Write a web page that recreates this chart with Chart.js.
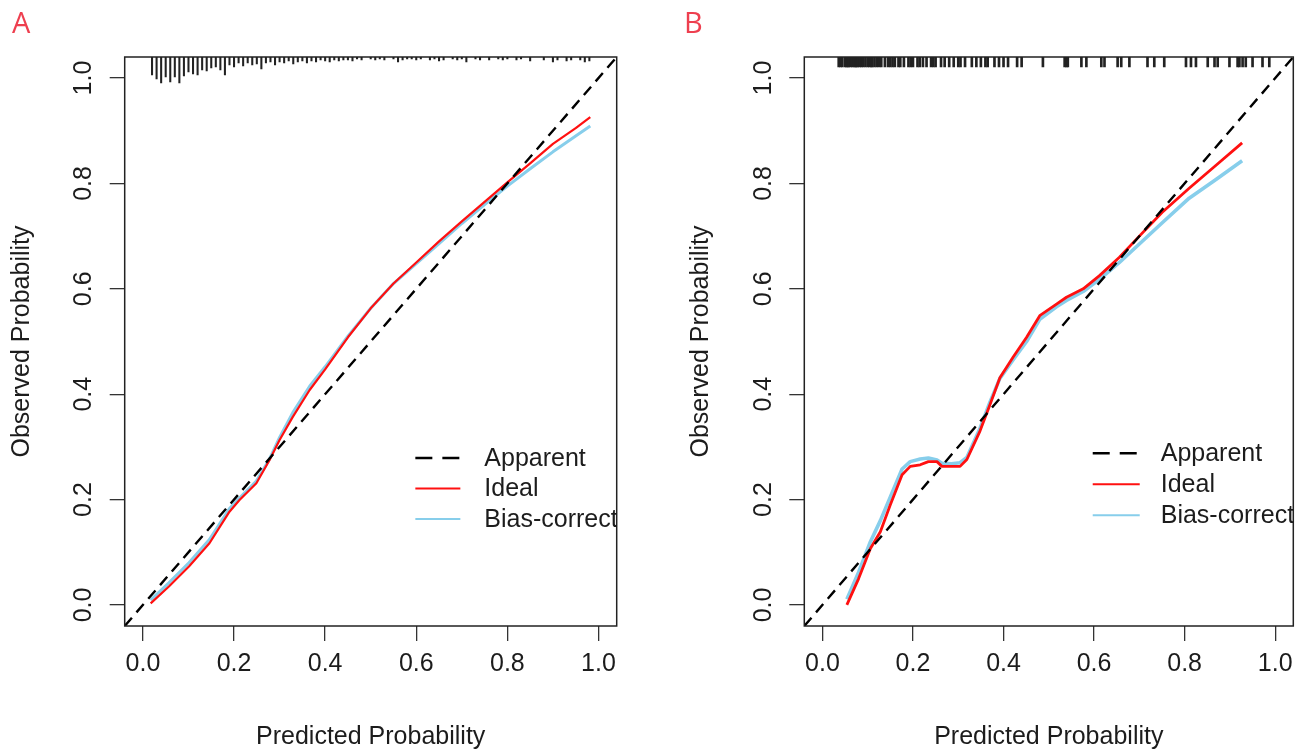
<!DOCTYPE html>
<html>
<head>
<meta charset="utf-8">
<script src="https://cdn.jsdelivr.net/npm/chart.js@4.4.1/dist/chart.umd.min.js"></script>
<style>
  html, body { margin: 0; padding: 0; background: #fff; }
  #wrap { position: relative; width: 1306px; height: 752px; overflow: hidden; }
  .panel { position: absolute; top: 0; width: 653px; height: 752px; }
  #panelA { left: 0; }
  #panelB { left: 653px; }
  .tag { position: absolute; top: 7px; font-family: "Open Sans", sans-serif; font-size: 29px; line-height: 29px; color: #ee3f4f; }
</style>
</head>
<body>
<div id="wrap">
  <div class="panel" id="panelA"><canvas id="chartA" width="653" height="752"></canvas></div>
  <div class="panel" id="panelB"><canvas id="chartB" width="653" height="752"></canvas></div>
  <div class="tag" style="left: 12px;">A</div>
  <div class="tag" style="left: 684px;">B</div>
</div>
<script>
// axis ticks + legend
const TICKS = [0, 0.2, 0.4, 0.6, 0.8, 1.0];
const DIAG = [-0.04, 1.04];
const LEGEND_LABELS = ["Apparent", "Ideal", "Bias-correct"];

// panel A curves
const A_X     = [0.017, 0.057, 0.101, 0.146, 0.19, 0.212, 0.249, 0.278, 0.3, 0.329, 0.366, 0.4, 0.45, 0.5, 0.55, 0.6, 0.65, 0.7, 0.75, 0.8, 0.85, 0.9, 0.95, 0.982];
const A_IDEAL = [0.003, 0.035, 0.073, 0.117, 0.177, 0.199, 0.231, 0.275, 0.313, 0.357, 0.408, 0.447, 0.508, 0.563, 0.61, 0.65, 0.69, 0.728, 0.765, 0.802, 0.838, 0.875, 0.905, 0.926];
const A_BIAS  = [0.009, 0.042, 0.08, 0.124, 0.183, 0.203, 0.235, 0.277, 0.318, 0.365, 0.415, 0.452, 0.51, 0.563, 0.61, 0.648, 0.686, 0.724, 0.76, 0.795, 0.828, 0.86, 0.89, 0.909];

// panel A spike histogram at top (counts)
const A_RUG_X = [0.02, 0.03, 0.04, 0.05, 0.06, 0.07, 0.08, 0.09, 0.10, 0.11, 0.12, 0.13, 0.14, 0.15, 0.16, 0.17, 0.18, 0.19, 0.20, 0.21,
                 0.22, 0.23, 0.24, 0.25, 0.26, 0.27, 0.28, 0.29, 0.30, 0.31, 0.32, 0.33, 0.34, 0.35, 0.36, 0.37, 0.38, 0.39, 0.40, 0.41,
                 0.42, 0.43, 0.44, 0.45, 0.46, 0.47, 0.48, 0.50, 0.51, 0.52, 0.53, 0.55, 0.56, 0.57, 0.58, 0.59, 0.60, 0.61, 0.63, 0.64,
                 0.65, 0.66, 0.68, 0.69, 0.70, 0.71, 0.73, 0.74, 0.76, 0.78, 0.79, 0.80, 0.82, 0.83, 0.85, 0.88, 0.90, 0.91, 0.93, 0.94,
                 0.96, 0.97, 0.98];
const A_RUG_N = [18, 22, 26, 20, 25, 20, 26, 19, 15, 17, 18, 13, 14, 11, 10, 13, 18, 8, 10, 6,
                 9, 6, 8, 7, 12, 6, 5, 8, 5, 6, 4, 7, 5, 4, 6, 4, 5, 3, 4, 5,
                 3, 4, 3, 3, 4, 2, 3, 2, 3, 2, 3, 2, 5, 3, 2, 2, 3, 2, 3, 2,
                 4, 3, 2, 3, 2, 5, 2, 3, 3, 2, 3, 2, 3, 2, 4, 3, 5, 3, 4, 3,
                 3, 5, 4];

// panel B curves
const B_X     = [0.054, 0.08, 0.106, 0.128, 0.15, 0.176, 0.194, 0.216, 0.234, 0.253, 0.264, 0.285, 0.304, 0.319, 0.348, 0.37, 0.392, 0.421, 0.451, 0.48, 0.517, 0.539, 0.576, 0.612, 0.656, 0.7, 0.75, 0.81, 0.87, 0.927];
const B_IDEAL = [0.0, 0.05, 0.107, 0.139, 0.19, 0.247, 0.263, 0.266, 0.272, 0.272, 0.263, 0.263, 0.263, 0.276, 0.33, 0.38, 0.431, 0.47, 0.508, 0.549, 0.571, 0.584, 0.6, 0.625, 0.66, 0.70, 0.745, 0.791, 0.835, 0.877];
const B_BIAS  = [0.011, 0.062, 0.12, 0.16, 0.205, 0.258, 0.272, 0.277, 0.279, 0.275, 0.269, 0.268, 0.27, 0.28, 0.335, 0.385, 0.43, 0.465, 0.5, 0.542, 0.566, 0.578, 0.595, 0.618, 0.65, 0.685, 0.725, 0.772, 0.808, 0.843];

// panel B rug (one tick per observation)
const B_RUG_X = [0.036, 0.040, 0.044, 0.050, 0.053, 0.056, 0.058, 0.062, 0.066, 0.070, 0.073, 0.075, 0.078, 0.082, 0.086, 0.090, 0.095, 0.100,
                 0.104, 0.108, 0.110, 0.115, 0.120, 0.125, 0.130, 0.138, 0.145, 0.150, 0.155, 0.160, 0.168, 0.172, 0.180, 0.190, 0.195,
                 0.200, 0.210, 0.215, 0.222, 0.230, 0.240, 0.245, 0.250, 0.262, 0.270, 0.280, 0.290, 0.300, 0.305, 0.315, 0.330,
                 0.340, 0.350, 0.360, 0.365, 0.380, 0.390, 0.400, 0.410, 0.430, 0.440, 0.487, 0.535, 0.539, 0.542, 0.572, 0.583,
                 0.616, 0.623, 0.652, 0.660, 0.678, 0.718, 0.733, 0.755, 0.803, 0.814, 0.825, 0.851, 0.866, 0.873, 0.899, 0.917,
                 0.921, 0.928, 0.935, 0.950, 0.972, 0.987];

const FONT = "'Liberation Sans', Arial, sans-serif";
const INK = "#1c1c1c";
const H = 752;

function pairs(xs, ys) {
  return xs.map((v, i) => ({ x: v, y: ys[i] }));
}

const boxPlugin = {
  id: "box",
  afterDatasetsDraw(chart) {
    const { ctx, chartArea: a } = chart;
    ctx.save();
    ctx.strokeStyle = "#222";
    ctx.lineWidth = 1.5;
    ctx.strokeRect(a.left, a.top, a.right - a.left, a.bottom - a.top);
    ctx.restore();
  },
};

// R style legend, no box, clipped to the plot region
const legendPlugin = {
  id: "rLegend",
  afterDatasetsDraw(chart, args, opts) {
    const { ctx, chartArea: a, scales } = chart;
    const x0 = scales.x.getPixelForValue(opts.x);
    let yy = scales.y.getPixelForValue(opts.y);
    ctx.save();
    ctx.beginPath();
    ctx.rect(a.left, a.top, a.right - a.left, a.bottom - a.top);
    ctx.clip();
    ctx.font = "25px " + FONT;
    ctx.textBaseline = "middle";
    ctx.fillStyle = INK;
    chart.data.datasets.slice(0, 3).forEach(ds => {
      ctx.strokeStyle = ds.borderColor;
      ctx.lineWidth = ds.legendWidth || ds.borderWidth;
      ctx.setLineDash(ds.legendDash || []);
      ctx.beginPath();
      ctx.moveTo(x0, yy);
      ctx.lineTo(x0 + opts.len, yy);
      ctx.stroke();
      ctx.fillText(ds.label, x0 + opts.len + opts.gap, yy + 1);
      yy += opts.row;
    });
    ctx.restore();
  },
};

function buildChart(id, p) {
  const rug = p.rugX.map((v, i) => ({ x: v, y: [1.04 - (p.rugN ? p.rugN[i] : p.rugLen) * p.unit, 1.04] }));
  const tickGrid = { display: true, offset: false, drawOnChartArea: false, drawTicks: true, tickLength: 15, color: "#333", lineWidth: 1.3 };
  return new Chart(document.getElementById(id), {
    type: "line",
    data: {
      datasets: [
        { label: LEGEND_LABELS[0], data: pairs(DIAG, DIAG), borderColor: "#000", borderWidth: 2.4, borderDash: [11, 7], legendDash: [17, 10], legendWidth: 2.6, order: 0 },
        { label: LEGEND_LABELS[1], data: pairs(p.xs, p.ideal), borderColor: "#ff1010", borderWidth: p.redW, legendWidth: 2, order: 1 },
        { label: LEGEND_LABELS[2], data: pairs(p.xs, p.bias), borderColor: "#87ceeb", borderWidth: p.blueW, legendWidth: 2, order: 2 },
        { type: "bar", label: "rug", data: rug, backgroundColor: "#222", barThickness: p.rugW, order: 3 },
      ],
    },
    options: {
      responsive: false,
      animation: false,
      layout: { padding: { left: 0, top: 57, right: p.padRight, bottom: 0 } },
      elements: { point: { radius: 0 }, line: { tension: 0, borderJoinStyle: "round" } },
      plugins: {
        legend: { display: false },
        tooltip: { enabled: false },
        rLegend: p.legend,
      },
      scales: {
        x: {
          type: "linear", min: -0.04, max: 1.04, offset: false,
          afterBuildTicks: s => { s.ticks = TICKS.map(v => ({ value: v })); },
          afterFit: s => { s.height = H - 626; },
          grid: tickGrid,
          border: { display: false },
          ticks: { autoSkip: false, maxRotation: 0, padding: 8, color: INK, font: { family: FONT, size: 25 }, callback: v => v.toFixed(1) },
          title: { display: true, text: "Predicted Probability", color: INK, font: { family: FONT, size: 25 }, padding: { bottom: 0 } },
        },
        y: {
          type: "linear", min: -0.04, max: 1.04, offset: false,
          afterBuildTicks: s => { s.ticks = TICKS.map(v => ({ value: v })); },
          afterFit: s => { s.width = p.left; },
          grid: tickGrid,
          border: { display: false },
          ticks: { autoSkip: false, minRotation: 90, maxRotation: 90, crossAlign: "center", padding: 8, color: INK, font: { family: FONT, size: 25 }, callback: v => v.toFixed(1) },
          title: { display: true, text: "Observed Probability", color: INK, font: { family: FONT, size: 25 }, padding: { top: p.left - 103 - 15 } },
        },
      },
    },
    plugins: [boxPlugin, legendPlugin],
  });
}

buildChart("chartA", {
  xs: A_X, ideal: A_IDEAL, bias: A_BIAS, rugX: A_RUG_X, rugN: A_RUG_N, unit: 1 / 527, rugW: 1.4,
  left: 124.7, padRight: 653 - 616.7, redW: 2.2, blueW: 3,
  legend: { x: 0.598, y: 0.279, len: 45, gap: 24, row: 30.5 },
});

buildChart("chartB", {
  xs: B_X, ideal: B_IDEAL, bias: B_BIAS, rugX: B_RUG_X, rugLen: 10, unit: 1 / 527, rugW: 2,
  left: 804.3 - 653, padRight: 653 - 640.3, redW: 2.8, blueW: 3.6,
  legend: { x: 0.597, y: 0.288, len: 47, gap: 21, row: 31 },
});
</script>
</body>
</html>
